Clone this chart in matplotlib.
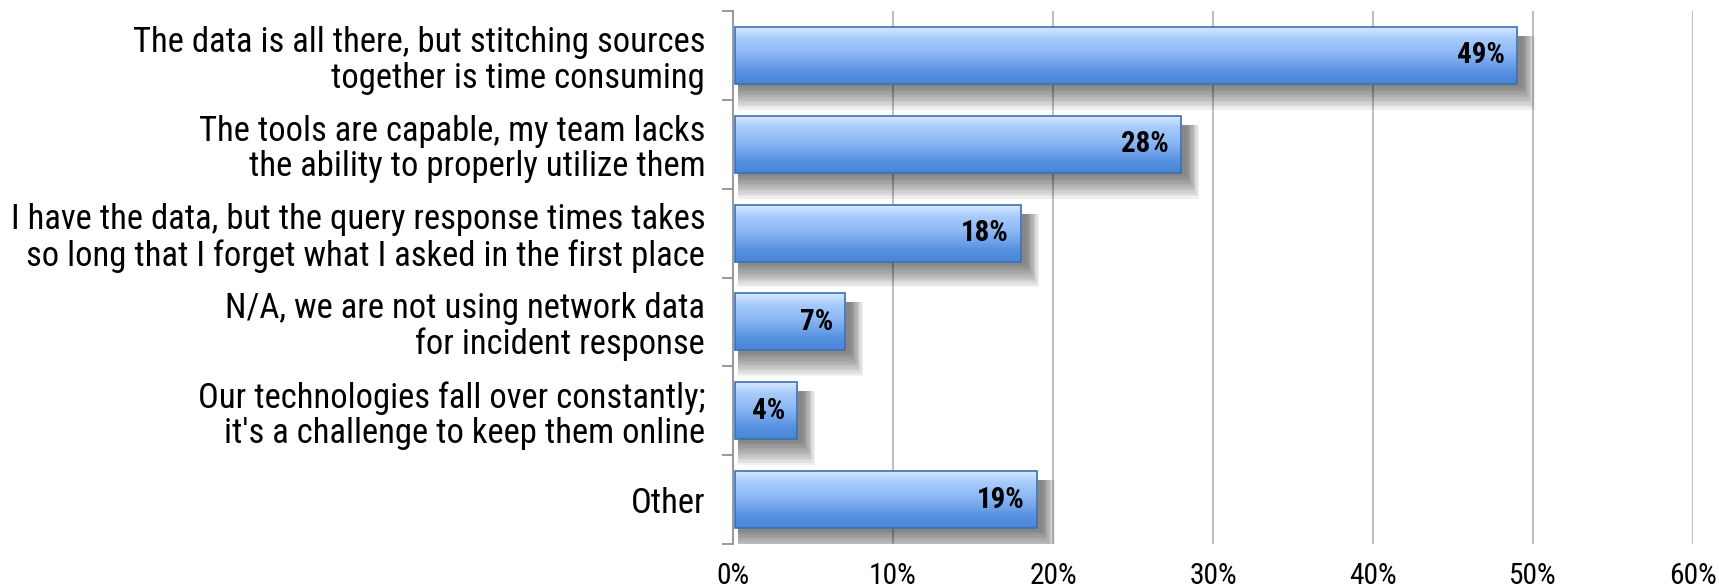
import matplotlib
matplotlib.use("Agg")
import matplotlib.pyplot as plt
import numpy as np
from matplotlib.colors import LinearSegmentedColormap
from matplotlib.patches import Rectangle
from matplotlib import font_manager

categories = [
    "The data is all there, but stitching sources\ntogether is time consuming",
    "The tools are capable, my team lacks\nthe ability to properly utilize them",
    "I have the data, but the query response times takes\nso long that I forget what I asked in the first place",
    "N/A, we are not using network data\nfor incident response",
    "Our technologies fall over constantly;\nit's a challenge to keep them online",
    "Other",
]
values = [49, 28, 18, 7, 4, 19]
xticks = [0, 10, 20, 30, 40, 50, 60]


def pick_family(candidates):
    for name in candidates:
        try:
            font_manager.findfont(name, fallback_to_default=False)
            return name
        except ValueError:
            continue
    return "DejaVu Sans"


family = pick_family(["Roboto Condensed", "IBM Plex Sans Condensed", "Archivo Narrow", "Lato"])
plt.rcParams["font.family"] = [family, "DejaVu Sans"]

fig = plt.figure(figsize=(17.19, 5.87), dpi=100)
renderer = fig.canvas.get_renderer()


def fit_size(text, width_px, weight="normal", base=20):
    t = fig.text(0, 0, text, fontsize=base, fontweight=weight)
    w = t.get_window_extent(renderer).width
    t.remove()
    return base * width_px / w


label_size = fit_size("I have the data, but the query response times takes", 694)
value_size = fit_size("49%", 48, weight="bold")
tick_size = fit_size("20%", 48)

ax = fig.add_axes([733 / 1719, 1 - 544 / 587, 960 / 1719, 533 / 587])

n = len(values)
ypos = np.arange(n)[::-1]
h = 0.64

bar_cmap = LinearSegmentedColormap.from_list(
    "bar", ["#d6e8ff", "#a6cafc", "#93bdf6", "#76a7ec", "#5690df", "#4a84d6"])
grad = np.linspace(0, 1, 64).reshape(-1, 1)

ax.set_xlim(0, 60)
ax.set_ylim(-0.5, n - 0.5)

# soft drop shadow, mostly below and a little right of each bar
for y, v in zip(ypos, values):
    for k in range(10):
        ax.add_patch(Rectangle((0.3, y - h / 2 - 0.04 - k * 0.028),
                               v + 0.1 + k * 0.08, h - 0.1 + 0.04 + k * 0.028,
                               facecolor="black", alpha=0.06, linewidth=0, zorder=1))

for y, v in zip(ypos, values):
    ax.imshow(grad, cmap=bar_cmap, aspect="auto", origin="upper",
              extent=[0.1, v, y - h / 2, y + h / 2], zorder=3)
    ax.add_patch(Rectangle((0.1, y - h / 2), v - 0.1, h, facecolor="none",
                           edgecolor="#3d70b4", linewidth=1.2, zorder=4))
    ax.text(v - 0.75, y, f"{v}%", ha="right", va="center", fontsize=value_size,
            fontweight="bold", color="black", zorder=5)

ax.set_xlim(0, 60)
ax.set_ylim(-0.5, n - 0.5)

for x in xticks[1:]:
    ax.axvline(x, color="#c0c0c0", linewidth=1.5, zorder=0)

ax.set_xticks(xticks, [f"{x}%" for x in xticks])
ax.tick_params(axis="x", length=0, labelsize=tick_size, pad=13)
ax.set_yticks(np.arange(n + 1) - 0.5)
ax.set_yticklabels([])
ax.set_yticks(ypos, categories, minor=True)
ax.tick_params(axis="y", which="major", length=8, color="#888888", width=1.2)
ax.tick_params(axis="y", which="minor", length=0, labelsize=label_size, pad=20)
for lbl in ax.get_yticklabels(minor=True):
    lbl.set_horizontalalignment("right")
    lbl.set_multialignment("right")
    lbl.set_linespacing(1.1)

for s in ["top", "right", "bottom"]:
    ax.spines[s].set_visible(False)
ax.spines["left"].set_color("#888888")
ax.spines["left"].set_linewidth(1.2)

fig.savefig("out.png", dpi=100)
